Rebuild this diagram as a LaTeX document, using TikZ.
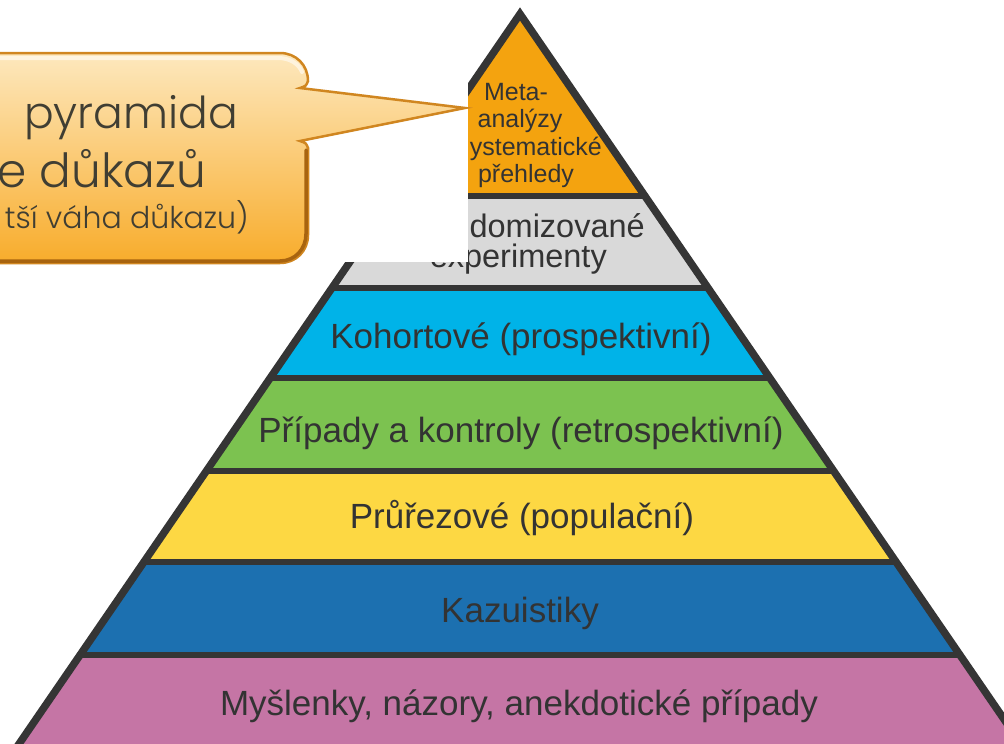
\documentclass[tikz,border=0pt]{standalone}
\usepackage{fontspec}
\setmainfont{Liberation Sans}
\newfontfamily\callfont{Poppins Light}
\definecolor{edge}{HTML}{353535}
\definecolor{txt}{HTML}{333333}
\definecolor{metaorange}{HTML}{F4A30F}
\definecolor{rctgray}{HTML}{D9D9D9}
\definecolor{cohcyan}{HTML}{00B3E8}
\definecolor{casegreen}{HTML}{7CC250}
\definecolor{crossyellow}{HTML}{FDD843}
\definecolor{kazblue}{HTML}{1C70B0}
\definecolor{ideapink}{HTML}{C575A5}
\definecolor{calltop}{HTML}{FDE8BE}
\definecolor{callmid}{HTML}{FBC462}
\definecolor{callbot}{HTML}{F8AC2B}
\definecolor{callrim}{HTML}{D08620}
\definecolor{callshade}{HTML}{A8640F}
\definecolor{calltxt}{HTML}{403E33}

\begin{document}
\begin{tikzpicture}[x=1pt, y=-1pt, every node/.style={inner sep=0pt, text=txt},
  band/.style={font=\fontsize{35}{40}\selectfont},
  small band/.style={font=\fontsize{32.5}{36}\selectfont},
  tip band/.style={font=\fontsize{25}{28}\selectfont},
  calltext/.style={text=calltxt}]
  \useasboundingbox (0,0) rectangle (1004,744);
  \clip (0,0) rectangle (1004,744);

  \coordinate (apex) at (520,14);
  \coordinate (bl) at (8,760);
  \coordinate (br) at (1032,760);

  % layers of the pyramid
  \begin{scope}
    \clip (apex) -- (bl) -- (br) -- cycle;
    \foreach \ya/\yb/\col in {0/196/metaorange, 196/288/rctgray, 288/378/cohcyan,
        378/471/casegreen, 471/562/crossyellow, 562/655/kazblue, 655/760/ideapink}
      \fill[\col] (0,\ya) rectangle (1004,\yb);
    \foreach \y in {196,288,378,471,562,655}
      \draw[edge, line width=5.5pt] (0,\y) -- (1004,\y);
  \end{scope}
  \draw[edge, line width=7.5pt] (apex) -- (bl) -- (br) -- cycle;

  \node[tip band, anchor=base] (meta) at (516,100) {Meta-};
  \node[tip band, anchor=base] (analyzy) at (520,127) {analýzy};
  \node[tip band, anchor=base east] (syst) at (602,155) {ystematické};
  \node[tip band, anchor=base] (prehledy) at (526,182) {přehledy};
  \node[small band, anchor=base east] (random) at (645,237) {domizované};
  \node[small band, anchor=base east] (exper) at (607,267) {experimenty};
  \node[band, anchor=base] (kohort) at (521,348) {Kohortové (prospektivní)};
  \node[band, anchor=base] (pripady) at (521,442) {Případy a kontroly (retrospektivní)};
  \node[band, anchor=base] (prurez) at (522,528) {Průřezové (populační)};
  \node[band, anchor=base] (kazuist) at (520,622) {Kazuistiky};
  \node[band, anchor=base] (myslenky) at (519,715) {Myšlenky, názory, anekdotické případy};

  % white patch over the left of the top
  \fill[white] (300,30) rectangle (468,262);

  % callout
  \shade[top color=calltop, middle color=callmid, bottom color=callbot, draw=callrim, line width=2.5pt]
    (-40,53) -- (280,53) .. controls (296,53) and (308,65) .. (308,81) .. controls (306,86) .. (300,88)
    -- (465,108) -- (300,141) .. controls (306,143) .. (308,148) -- (308,235)
    .. controls (308,251) and (296,263) .. (280,263) -- (-40,263) -- cycle;
  \draw[callshade, line width=3.5pt, line cap=round]
    (306,150) -- (306,234) .. controls (306,249) and (295,261) .. (280,261) -- (-40,261);
  \draw[white, opacity=.55, line width=4pt, line cap=round]
    (-40,58) -- (278,58) .. controls (290,58) and (299,64) .. (302,72);
  \node[calltext, font=\callfont\fontsize{44}{50}\selectfont, anchor=base east] (pyr) at (238,128) {pyramida};
  \node[calltext, font=\callfont\fontsize{47}{52}\selectfont, anchor=base east] (hier) at (206,187) {e důkazů};
  \node[calltext, font=\callfont\fontsize{30}{34}\selectfont, anchor=base east] (vaha) at (249,228) {tší váha důkazu)};
\end{tikzpicture}
\end{document}
